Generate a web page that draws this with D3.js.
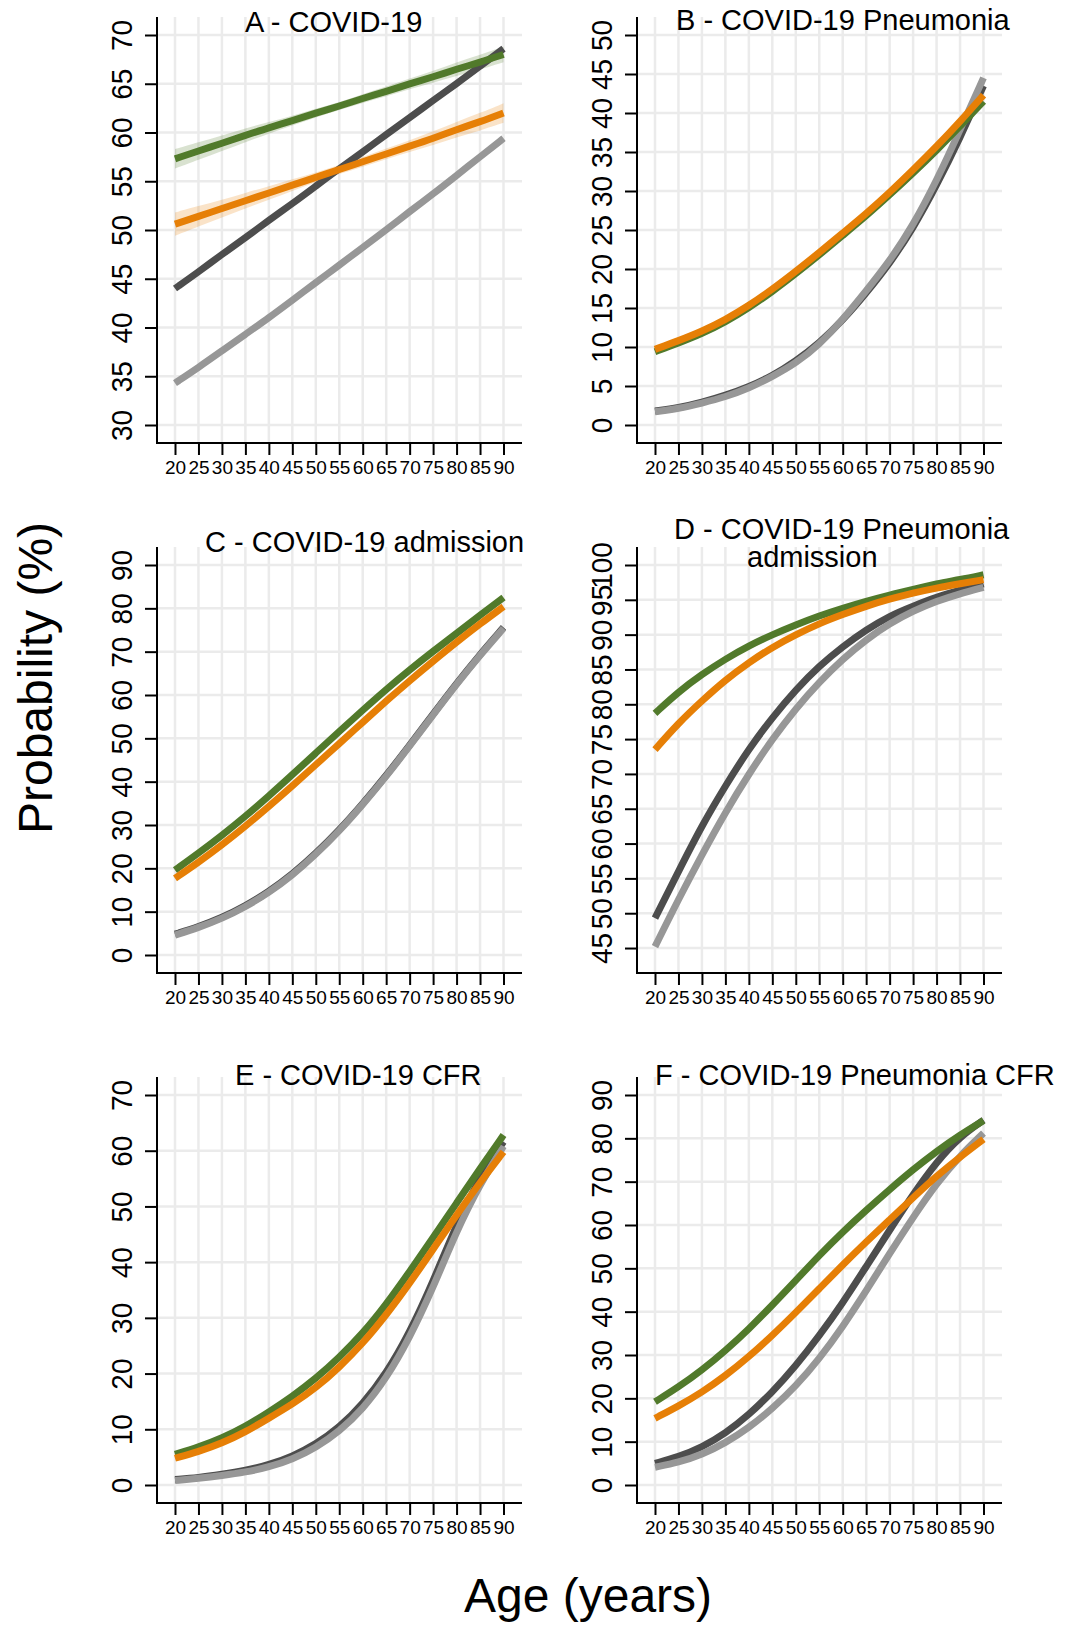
<!DOCTYPE html>
<html>
<head>
<meta charset="utf-8">
<script src="https://cdn.jsdelivr.net/npm/d3@7"></script>
<style>
  body { margin: 0; background: #fff; }
  svg { display: block; font-family: "Liberation Sans", Arial, sans-serif; }
</style>
</head>
<body>
<svg id="chart" width="1078" height="1625"></svg>
<script>
const ages = [20, 25, 30, 35, 40, 45, 50, 55, 60, 65, 70, 75, 80, 85, 90];

// A - COVID-19
const aGreen  = [57.3, 58.1, 58.9, 59.7, 60.5, 61.2, 62.0, 62.7, 63.5, 64.2, 65.0, 65.7, 66.5, 67.2, 68.0];
const aGreenCI = [1.0, 0.9, 0.8, 0.7, 0.6, 0.5, 0.45, 0.4, 0.45, 0.5, 0.55, 0.6, 0.7, 0.75, 0.8];
const aOrange = [50.6, 51.4, 52.2, 53.0, 53.8, 54.6, 55.4, 56.2, 57.0, 57.8, 58.6, 59.4, 60.3, 61.1, 62.0];
const aOrangeCI = [1.2, 1.05, 0.9, 0.8, 0.7, 0.6, 0.5, 0.45, 0.5, 0.55, 0.6, 0.7, 0.8, 0.9, 1.0];
const aDark   = [44.0, 45.7, 47.5, 49.2, 51.0, 52.7, 54.5, 56.3, 58.0, 59.8, 61.5, 63.3, 65.0, 66.8, 68.6];
const aLight  = [34.3, 35.9, 37.6, 39.3, 41.0, 42.8, 44.6, 46.4, 48.2, 50.0, 51.9, 53.7, 55.6, 57.5, 59.4];

// B - COVID-19 Pneumonia
const bGreen  = [9.4, 10.5, 11.7, 13.2, 15.0, 17.1, 19.4, 21.8, 24.3, 26.8, 29.5, 32.3, 35.2, 38.3, 41.5];
const bOrange = [9.7, 10.8, 12.0, 13.5, 15.3, 17.4, 19.7, 22.1, 24.6, 27.1, 29.8, 32.7, 35.7, 38.9, 42.3];
const bDark   = [1.8, 2.2, 2.9, 3.8, 4.9, 6.3, 8.2, 10.5, 13.4, 16.9, 20.7, 25.2, 30.7, 36.8, 43.5];
const bLight  = [1.7, 2.1, 2.8, 3.6, 4.7, 6.2, 7.9, 10.3, 13.5, 17.2, 21.0, 25.6, 31.3, 37.8, 44.5];

// C - COVID-19 admission
const cGreen  = [19.6, 23.5, 27.6, 32.0, 36.7, 41.6, 46.6, 51.6, 56.5, 61.3, 65.8, 70.1, 74.2, 78.4, 82.5];
const cOrange = [17.7, 21.4, 25.4, 29.7, 34.3, 39.0, 43.9, 48.8, 53.7, 58.6, 63.3, 67.8, 72.2, 76.4, 80.4];
const cDark   = [4.8, 6.5, 8.6, 11.3, 14.6, 18.6, 23.4, 28.8, 34.9, 41.4, 48.4, 55.6, 62.7, 69.4, 75.6];
const cLight  = [4.6, 6.3, 8.4, 11.1, 14.4, 18.4, 23.2, 28.6, 34.7, 41.2, 48.2, 55.4, 62.5, 69.2, 75.4];

// D - COVID-19 Pneumonia admission
const dGreen  = [78.7, 81.8, 84.3, 86.5, 88.4, 90.0, 91.4, 92.7, 93.8, 94.8, 95.7, 96.5, 97.3, 97.9, 98.6];
const dOrange = [73.5, 77.3, 80.5, 83.5, 86.0, 88.2, 90.0, 91.6, 92.9, 94.1, 95.1, 96.0, 96.7, 97.3, 97.9];
const dDark   = [49.3, 56.0, 62.6, 68.3, 73.6, 78.1, 82.1, 85.5, 88.3, 90.7, 92.7, 94.1, 95.4, 96.4, 97.3];
const dLight  = [45.2, 52.0, 58.4, 64.5, 70.0, 75.0, 79.4, 83.2, 86.5, 89.3, 91.6, 93.4, 94.8, 95.9, 96.8];

// E - COVID-19 CFR
const eGreen  = [5.5, 6.8, 8.4, 10.5, 13.1, 15.9, 19.1, 22.9, 27.2, 32.4, 38.3, 44.4, 50.6, 56.8, 62.8];
const eOrange = [4.8, 6.0, 7.5, 9.5, 12.0, 14.5, 17.4, 21.1, 25.4, 30.5, 36.2, 42.3, 48.5, 54.3, 59.8];
const eDark   = [1.0, 1.3, 1.9, 2.6, 3.6, 5.1, 7.3, 10.3, 14.5, 20.0, 27.3, 36.5, 46.8, 55.3, 61.6];
const eLight  = [0.8, 1.2, 1.7, 2.3, 3.2, 4.6, 6.7, 9.6, 13.6, 19.1, 26.4, 35.4, 45.6, 54.0, 60.8];

// F - COVID-19 Pneumonia CFR
const fGreen  = [19.2, 22.6, 26.5, 31.0, 36.0, 41.5, 47.2, 53.0, 58.4, 63.4, 68.2, 72.8, 77.0, 80.8, 84.1];
const fOrange = [15.4, 18.2, 21.4, 25.2, 29.6, 34.5, 39.8, 45.3, 50.8, 56.1, 61.2, 66.3, 71.3, 75.7, 79.8];
const fDark   = [5.0, 6.5, 8.7, 11.9, 16.2, 21.4, 27.5, 34.4, 42.0, 50.4, 58.8, 67.1, 74.6, 80.4, 84.2];
const fLight  = [4.1, 5.2, 7.0, 9.7, 13.2, 17.6, 22.8, 29.1, 36.5, 44.8, 53.4, 61.8, 69.6, 76.0, 81.2];

// y tick labels
const yTicksA = [30, 35, 40, 45, 50, 55, 60, 65, 70];
const yTicksB = [0, 5, 10, 15, 20, 25, 30, 35, 40, 45, 50];
const yTicksC = [0, 10, 20, 30, 40, 50, 60, 70, 80, 90];
const yTicksD = [45, 50, 55, 60, 65, 70, 75, 80, 85, 90, 95, 100];
const yTicksE = [0, 10, 20, 30, 40, 50, 60, 70];
const yTicksF = [0, 10, 20, 30, 40, 50, 60, 70, 80, 90];

const colors = { dark: '#4d4d4d', light: '#979797', green: '#517a2b', orange: '#e67f06' };

const panels = [
  { title: ['A - COVID-19'], tx: [245], ty: [32], left: 157, top: 17, yTicks: yTicksA, yMin: 30,
    series: { dark: aDark, light: aLight, green: aGreen, orange: aOrange },
    bands: { green: [aGreen, aGreenCI], orange: [aOrange, aOrangeCI] } },
  { title: ['B - COVID-19 Pneumonia'], tx: [676], ty: [30], left: 637, top: 17, yTicks: yTicksB, yMin: 0,
    series: { dark: bDark, light: bLight, green: bGreen, orange: bOrange } },
  { title: ['C - COVID-19 admission'], tx: [205], ty: [552], left: 157, top: 547, yTicks: yTicksC, yMin: 0,
    series: { dark: cDark, light: cLight, green: cGreen, orange: cOrange } },
  { title: ['D - COVID-19 Pneumonia', 'admission'], tx: [674, 747], ty: [539, 567], left: 637, top: 547, yTicks: yTicksD, yMin: 44,
    series: { dark: dDark, light: dLight, green: dGreen, orange: dOrange } },
  { title: ['E - COVID-19 CFR'], tx: [235], ty: [1085], left: 157, top: 1077, yTicks: yTicksE, yMin: 0,
    series: { dark: eDark, light: eLight, green: eGreen, orange: eOrange } },
  { title: ['F - COVID-19 Pneumonia CFR'], tx: [655], ty: [1085], left: 637, top: 1077, yTicks: yTicksF, yMin: 0,
    series: { dark: fDark, light: fLight, green: fGreen, orange: fOrange } }
];

const plotW = 365, plotH = 426, pad = 18;
const svg = d3.select('#chart');

panels.forEach((p) => {
  const x = d3.scaleLinear().domain([20, 90]).range([p.left + pad, p.left + plotW - pad - 0.5]);
  const y = d3.scaleLinear().domain([p.yMin, p.yTicks[p.yTicks.length - 1]])
    .range([p.top + plotH - pad, p.top + pad]);
  const g = svg.append('g');
  const bottom = p.top + plotH;

  // grid
  g.selectAll('.vgrid').data(ages).enter().append('line')
    .attr('x1', (d) => x(d)).attr('x2', (d) => x(d))
    .attr('y1', p.top).attr('y2', bottom)
    .attr('stroke', '#ebebeb').attr('stroke-width', 2.5);
  g.selectAll('.hgrid').data(p.yTicks).enter().append('line')
    .attr('x1', p.left).attr('x2', p.left + plotW)
    .attr('y1', (d) => y(d)).attr('y2', (d) => y(d))
    .attr('stroke', '#ebebeb').attr('stroke-width', 2.5);

  // confidence bands
  if (p.bands) {
    Object.entries(p.bands).forEach(([key, [vals, half]]) => {
      const area = d3.area()
        .x((d, i) => x(ages[i]))
        .y0((d, i) => y(vals[i] - half[i]))
        .y1((d, i) => y(vals[i] + half[i]))
        .curve(d3.curveBasis);
      g.append('path').datum(vals).attr('d', area)
        .attr('fill', colors[key]).attr('fill-opacity', 0.22);
    });
  }

  // lines
  const line = d3.line().x((d, i) => x(ages[i])).y((d) => y(d)).curve(d3.curveBasis);
  ['dark', 'light', 'green', 'orange'].forEach((key) => {
    g.append('path').datum(p.series[key]).attr('d', line)
      .attr('fill', 'none').attr('stroke', colors[key])
      .attr('stroke-width', 7).attr('stroke-linecap', 'butt');
  });

  // axes
  const yAxis = g.append('g').attr('transform', `translate(${p.left},0)`)
    .call(d3.axisLeft(y).tickValues(p.yTicks).tickSize(12).tickFormat(d3.format('d')));
  yAxis.select('.domain').remove();
  yAxis.selectAll('line').attr('stroke', '#000').attr('stroke-width', 2);
  yAxis.selectAll('text')
    .attr('x', null).attr('dy', null)
    .attr('text-anchor', 'middle')
    .attr('transform', 'translate(-25,0) rotate(-90) scale(1,1.08)')
    .attr('font-size', 28).attr('font-family', '"Liberation Sans", Arial, sans-serif')
    .attr('fill', '#000');

  const xAxis = g.append('g').attr('transform', `translate(0,${bottom})`)
    .call(d3.axisBottom(x).tickValues(ages).tickSize(12));
  xAxis.select('.domain').remove();
  xAxis.selectAll('line').attr('stroke', '#000').attr('stroke-width', 2);
  xAxis.selectAll('text')
    .attr('y', 31).attr('dy', null)
    .attr('font-size', 19).attr('font-family', '"Liberation Sans", Arial, sans-serif')
    .attr('fill', '#000');

  g.append('line').attr('x1', p.left).attr('x2', p.left).attr('y1', p.top).attr('y2', bottom + 1)
    .attr('stroke', '#000').attr('stroke-width', 2);
  g.append('line').attr('x1', p.left - 1).attr('x2', p.left + plotW).attr('y1', bottom).attr('y2', bottom)
    .attr('stroke', '#000').attr('stroke-width', 2);

  // title
  p.title.forEach((t, i) => {
    g.append('text').attr('x', p.tx[i]).attr('y', p.ty[i])
      .attr('font-size', 29).attr('fill', '#000').text(t);
  });
});

svg.append('text')
  .attr('transform', 'translate(52,678) rotate(-90)')
  .attr('text-anchor', 'middle').attr('font-size', 48).text('Probability (%)');

svg.append('text')
  .attr('x', 588).attr('y', 1612)
  .attr('text-anchor', 'middle').attr('font-size', 48).text('Age (years)');
</script>
</body>
</html>
